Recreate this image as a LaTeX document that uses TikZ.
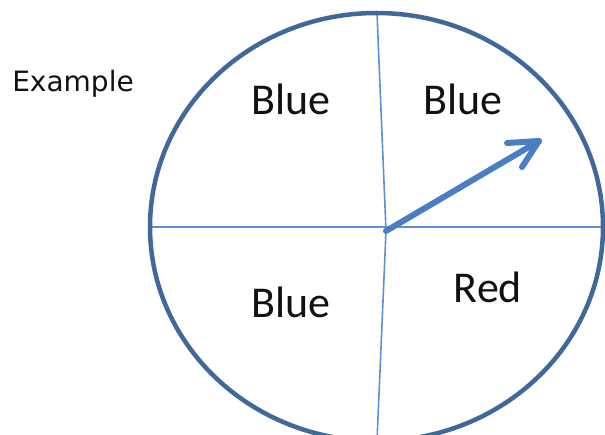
\documentclass[tikz,border=0pt]{standalone}
\usepackage{fontspec}
\setmainfont{Carlito}
\newfontfamily\exfont{DejaVu Sans}
\definecolor{rimblue}{HTML}{41689A}
\definecolor{lineblue}{HTML}{5E90D2}
\definecolor{arrowblue}{HTML}{4A7EC2}
\definecolor{txt}{HTML}{111111}
\tikzset{
  rim/.style={draw=rimblue, line width=4.5pt},
  divider/.style={draw=lineblue, line width=1.6pt},
  pointer/.style={draw=arrowblue, line width=6pt, line cap=round, line join=round},
  sector/.style={anchor=base, text=txt, inner sep=0pt, font=\fontsize{44}{50}\selectfont},
  extext/.style={anchor=base, text=txt, inner sep=0pt, font=\exfont\fontsize{28}{32}\selectfont}
}
\begin{document}
\begin{tikzpicture}[x=1pt,y=-1pt]
\useasboundingbox (0,0) rectangle (605,435);
\coordinate (c) at (376.5,227);
\coordinate (hub) at (386,231);
\coordinate (top) at (377,13);
\coordinate (bot) at (377,441);
\coordinate (left) at (150,227);
\coordinate (right) at (603,227);
\coordinate (tip) at (539,141);
\coordinate (armA) at (507,143);
\coordinate (armB) at (522,167);
\path[divider] (left) -- (right);
\path[divider] (top) -- (hub) -- (bot);
\path[rim] (c) ellipse [x radius=226.5, y radius=214];
\path[pointer] (hub) -- (tip);
\path[pointer] (armA) -- (tip) -- (armB);
\node[sector] (tl) at (291,115) {Blue};
\node[sector] (tr) at (463,115) {Blue};
\node[sector] (bl) at (291,318) {Blue};
\node[sector] (br) at (488,303) {Red};
\node[extext] (ex) at (73,91.5) {Example};
\end{tikzpicture}
\end{document}
